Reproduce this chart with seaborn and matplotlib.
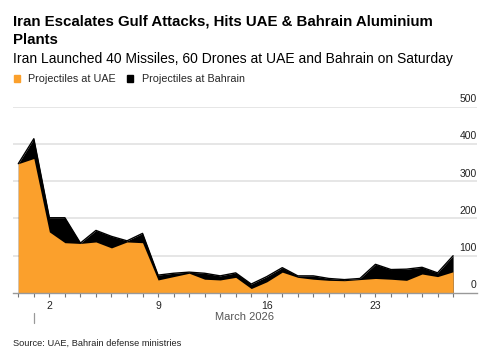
import matplotlib
matplotlib.use('Agg')
import matplotlib.pyplot as plt
import matplotlib.dates as mdates
import matplotlib.transforms as mtransforms
from matplotlib.patches import Patch
import seaborn as sns
import numpy as np
import pandas as pd

# daily projectiles, Feb 28 - Mar 28 2026
dates = pd.date_range('2026-02-28', '2026-03-28', freq='D')
uae = [347, 361, 164, 135, 133, 137, 121, 137, 135, 35, 44, 53, 37, 35, 42,
       12, 30, 56, 42, 37, 34, 33, 36, 39, 37, 34, 51, 44, 57]
bahrain = [0, 53, 38, 67, 1, 31, 31, 3, 25, 13, 9, 3, 16, 11, 12,
           12, 14, 12, 4, 9, 5, 3, 3, 38, 26, 30, 18, 10, 43]
y_ticks = [0, 100, 200, 300, 400, 500]
x_tick_days = ['2026-03-02', '2026-03-09', '2026-03-16', '2026-03-23']

title = 'Iran Escalates Gulf Attacks, Hits UAE & Bahrain Aluminium\nPlants'
subtitle = 'Iran Launched 40 Missiles, 60 Drones at UAE and Bahrain on Saturday'
source = 'Source: UAE, Bahrain defense ministries'

ORANGE = '#fba02c'
BLACK = '#000000'

df = pd.DataFrame({'date': dates, 'uae': uae, 'bahrain': bahrain})
df['total'] = df['uae'] + df['bahrain']

sns.set_theme(style='white')
plt.rcParams['font.family'] = ['Liberation Sans', 'DejaVu Sans']

fig = plt.figure(figsize=(5.01, 3.63), dpi=100)
ax = fig.add_axes([0.026, 0.1928, 0.9255, 0.5133])

x = mdates.date2num(df['date'])
ax.fill_between(x, 0, df['total'], color=BLACK, lw=0)
ax.fill_between(x, 0, df['uae'], color=ORANGE, lw=0)
sns.lineplot(x=x, y=df['total'], ax=ax, color=BLACK, lw=1.0)

ax.set_xlim(x[0] - 0.34, x[-1] + 1.52)
ax.set_ylim(0, 500)

# grid + y labels sitting above the lines on the right
for v in y_ticks[1:]:
    ax.axhline(v, color='#e1e1e1', lw=1.2, zorder=0)
ax.set_yticks([])
trans = mtransforms.blended_transform_factory(ax.transAxes, ax.transData)
for v in y_ticks:
    ax.annotate(str(v), xy=(1.0, v), xycoords=trans, xytext=(0, 5.5),
                textcoords='offset points', ha='right', va='center',
                fontsize=7.5, color='#222222')

for s in ['top', 'right', 'left']:
    ax.spines[s].set_visible(False)
ax.spines['bottom'].set_color('#999999')
ax.spines['bottom'].set_linewidth(1.0)

ax.set_xticks(x)
ax.set_xticklabels([str(d.day) if d.strftime('%Y-%m-%d') in x_tick_days else ''
                    for d in df['date']])
ax.tick_params(axis='x', length=3, width=0.8, color='#777777', pad=2.5,
               labelsize=7.5, labelcolor='#222222', bottom=True)
ax.set_xlabel('')
ax.set_ylabel('')

# month marker and label
xt = mtransforms.blended_transform_factory(ax.transData, ax.transAxes)
m1 = mdates.date2num(pd.Timestamp('2026-03-01'))
ax.plot([m1, m1], [-0.108, -0.16], transform=xt, color='#999999', lw=0.9,
        clip_on=False)
ax.text(0.5, -0.127, 'March 2026', transform=ax.transAxes, ha='center',
        va='center', fontsize=8, color='#555555')

fig.text(0.026, 1 - 31 / 363, title, fontsize=10.85, fontweight='bold',
         va='center', ha='left', color='#000000', linespacing=1.38)
fig.text(0.026, 1 - 59 / 363, subtitle, fontsize=10, va='center', ha='left',
         color='#000000')

handles = [Patch(color=ORANGE, label='Projectiles at UAE'),
           Patch(color=BLACK, label='Projectiles at Bahrain')]
fig.legend(handles=handles, loc='center left', bbox_to_anchor=(0.027, 1 - 79.5 / 363),
           ncol=2, frameon=False, fontsize=7.75, handlelength=0.6,
           handleheight=0.6, handletextpad=0.75, columnspacing=1.05,
           borderpad=0, borderaxespad=0)

fig.text(0.026, 1 - 343 / 363, source, fontsize=6.65, va='center', ha='left',
         color='#222222')

fig.savefig('out.png', dpi=100)
